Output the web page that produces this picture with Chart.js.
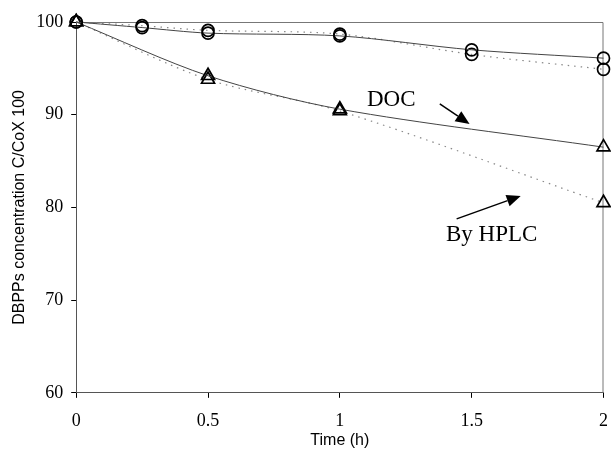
<!DOCTYPE html>
<html><head><meta charset="utf-8">
<script src="https://cdn.jsdelivr.net/npm/chart.js@4"></script>
<style>html,body{margin:0;padding:0;background:#fff;overflow:hidden}#wrap{width:611px;height:453px}canvas{display:block}</style>
</head><body><div id="wrap"><canvas id="c" width="611" height="453"></canvas></div>
<script>
const times = [0, 0.25, 0.5, 1, 1.5, 2];
const timesTri = [0, 0.5, 1, 2];
const docCircle = [100, 99.4, 98.8, 98.5, 97.0, 96.1];
const hplcCircle = [100, 99.6, 99.1, 98.7, 96.5, 94.9];
const docTriangle = [100, 94.2, 90.6, 86.5];
const hplcTriangle = [100, 93.8, 90.4, 80.5];
const xTicks = [0, 0.5, 1, 1.5, 2];
const yTicks = [60, 70, 80, 90, 100];
const annotations = [
  {text: 'DOC', x: 1.195, y: 91.6, from: [1.379, 91.16], to: [1.492, 89.0]},
  {text: 'By HPLC', x: 1.576, y: 77.0, from: [1.443, 78.76], to: [1.686, 81.24]}
];

const pts = (xs, ys) => xs.map((x, i) => ({x, y: ys[i]}));
const solid = {borderColor: '#444', borderWidth: 1, tension: 0.3, clip: false};
const dotted = {borderColor: '#888', borderWidth: 1.2, borderDash: [1.5, 5], tension: 0.3, clip: false};
const marker = (style, r) => ({pointStyle: style, pointRadius: r, pointBorderColor: '#000', pointBorderWidth: 1.7, pointBackgroundColor: 'rgba(255,255,255,0)'});

const annoPlugin = {
  id: 'anno',
  beforeDatasetsDraw(chart) {
    const {ctx, chartArea: a} = chart;
    ctx.save();
    ctx.strokeStyle = '#777'; ctx.lineWidth = 1;
    ctx.beginPath(); ctx.moveTo(a.left, a.top + 0.5); ctx.lineTo(a.right - 0.5, a.top + 0.5); ctx.lineTo(a.right - 0.5, a.bottom); ctx.stroke();
    ctx.restore();
  },
  afterDatasetsDraw(chart) {
    const {ctx, scales: {x, y}} = chart;
    ctx.save();
    ctx.fillStyle = '#000'; ctx.font = '23px "Liberation Serif"';
    ctx.textAlign = 'center'; ctx.textBaseline = 'middle';
    annotations.forEach(an => {
      ctx.fillText(an.text, x.getPixelForValue(an.x), y.getPixelForValue(an.y));
      const x1 = x.getPixelForValue(an.from[0]), y1 = y.getPixelForValue(an.from[1]);
      const x2 = x.getPixelForValue(an.to[0]), y2 = y.getPixelForValue(an.to[1]);
      const ang = Math.atan2(y2 - y1, x2 - x1);
      const L = 14, W = 6;
      ctx.strokeStyle = '#000'; ctx.lineWidth = 1.5;
      ctx.beginPath(); ctx.moveTo(x1, y1); ctx.lineTo(x2 - L * Math.cos(ang), y2 - L * Math.sin(ang)); ctx.stroke();
      ctx.beginPath();
      ctx.moveTo(x2, y2);
      ctx.lineTo(x2 - L * Math.cos(ang) + W * Math.sin(ang), y2 - L * Math.sin(ang) - W * Math.cos(ang));
      ctx.lineTo(x2 - L * Math.cos(ang) - W * Math.sin(ang), y2 - L * Math.sin(ang) + W * Math.cos(ang));
      ctx.closePath(); ctx.fill();
    });
    ctx.restore();
  }
};

new Chart(document.getElementById('c'), {
  type: 'line',
  data: {datasets: [
    {data: pts(times, docCircle), ...solid, ...marker('circle', 6)},
    {data: pts(times, hplcCircle), ...dotted, ...marker('circle', 6)},
    {data: pts(timesTri, docTriangle), ...solid, ...marker('triangle', 7.5)},
    {data: pts(timesTri, hplcTriangle), ...dotted, ...marker('triangle', 7.5)}
  ]},
  options: {
    responsive: false, animation: false,
    layout: {autoPadding: false, padding: {top: 22, right: 0, left: 10, bottom: 3}},
    plugins: {legend: {display: false}, tooltip: {enabled: false}},
    scales: {
      x: {type: 'linear', min: 0, max: 2,
        afterBuildTicks: s => { s.ticks = xTicks.map(v => ({value: v})); },
        grid: {drawOnChartArea: false, drawTicks: true, tickLength: 5, color: '#000'},
        border: {color: '#555', width: 1},
        ticks: {color: '#000', font: {family: 'Liberation Serif', size: 18, lineHeight: 2.22}, padding: 3, maxRotation: 0,
          callback: v => String(v)},
        title: {display: true, text: 'Time (h)', color: '#000', font: {family: 'Liberation Sans', size: 16}, padding: {top: -13, bottom: 0}}
      },
      y: {min: 60, max: 100,
        afterBuildTicks: s => { s.ticks = yTicks.map(v => ({value: v})); },
        grid: {drawOnChartArea: false, drawTicks: true, tickLength: 5, color: '#000'},
        border: {color: '#555', width: 1},
        ticks: {color: '#000', font: {family: 'Liberation Serif', size: 18}, padding: 8},
        title: {display: true, text: 'DBPPs concentration C/CoX 100', color: '#000', font: {family: 'Liberation Sans', size: 16}, padding: {top: 0, bottom: -1}}
      }
    }
  },
  plugins: [annoPlugin]
});
</script></body></html>
